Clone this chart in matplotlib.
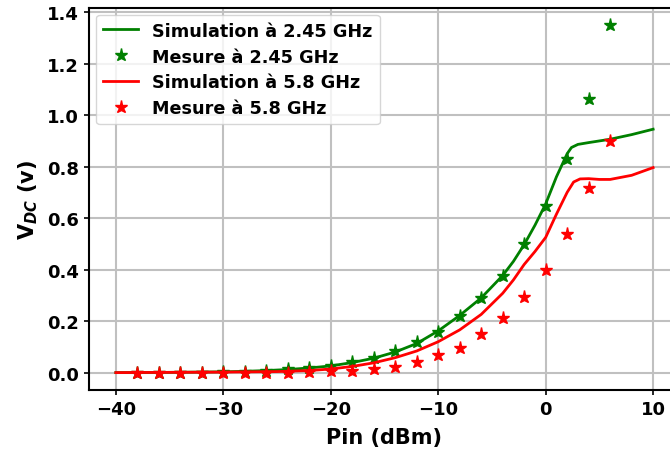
import matplotlib
matplotlib.use("Agg")
import matplotlib.pyplot as plt

# Simulation 2.45 GHz
sim245_x = [-40, -35, -30, -28, -26, -24, -22, -20, -18, -16, -14, -12, -10, -8, -6, -4, -3, -2, -1, 0, 1, 2, 2.4, 3, 4, 6, 8, 10]
sim245_y = [0.0, 0.001, 0.003, 0.005, 0.008, 0.012, 0.018, 0.026, 0.039, 0.056, 0.080, 0.113, 0.162, 0.222, 0.290, 0.377, 0.432, 0.497, 0.572, 0.655, 0.760, 0.850, 0.874, 0.886, 0.893, 0.906, 0.924, 0.945]

# Measurement 2.45 GHz
mes_x = [-38, -36, -34, -32, -30, -28, -26, -24, -22, -20, -18, -16, -14, -12, -10, -8, -6, -4, -2, 0, 2, 4, 6]
mes245_y = [0.0, 0.0, 0.0, 0.0, 0.001, 0.003, 0.008, 0.013, 0.016, 0.027, 0.043, 0.058, 0.084, 0.117, 0.158, 0.219, 0.288, 0.377, 0.498, 0.648, 0.830, 1.062, 1.350]

# Simulation 5.8 GHz
sim58_x = [-40, -35, -30, -25, -22, -20, -18, -16, -14, -12, -10, -8, -6, -4, -3, -2, -1, 0, 1, 2, 2.6, 3.2, 4, 5, 6, 8, 10]
sim58_y = [0.0, 0.001, 0.002, 0.004, 0.008, 0.014, 0.024, 0.038, 0.058, 0.084, 0.120, 0.166, 0.226, 0.308, 0.360, 0.420, 0.470, 0.525, 0.615, 0.700, 0.740, 0.752, 0.753, 0.750, 0.750, 0.766, 0.796]

# Measurement 5.8 GHz
mes58_y = [0.0, 0.0, 0.0, 0.0, 0.0, 0.0, 0.0, 0.0, 0.001, 0.005, 0.008, 0.013, 0.023, 0.043, 0.067, 0.097, 0.149, 0.211, 0.294, 0.400, 0.539, 0.716, 0.901]

plt.rcParams['font.weight'] = 'bold'
plt.rcParams['axes.labelweight'] = 'bold'

fig = plt.figure(figsize=(6.7, 4.52), dpi=100)
ax = fig.add_axes([89/670, 61/452, 591/670, 382.5/452])

ax.plot(sim245_x, sim245_y, color='green', lw=2, label='Simulation à 2.45 GHz')
ax.plot(mes_x, mes245_y, '*', color='green', ms=9.5, label='Mesure à 2.45 GHz')
ax.plot(sim58_x, sim58_y, color='red', lw=2, label='Simulation à 5.8 GHz')
ax.plot(mes_x, mes58_y, '*', color='red', ms=9.5, label='Mesure à 5.8 GHz')

ax.set_xlim(-42.5, 12.5)
ax.set_ylim(-0.0675, 1.4175)
ax.set_xticks([-40, -30, -20, -10, 0, 10])
ax.set_yticks([0.0, 0.2, 0.4, 0.6, 0.8, 1.0, 1.2, 1.4])
ax.grid(True, color='#c0c0c0', lw=1.5)
ax.set_axisbelow(True)
for s in ax.spines.values():
    s.set_linewidth(1.5)
ax.tick_params(labelsize=13, width=1.2)
for lbl in ax.get_xticklabels() + ax.get_yticklabels():
    lbl.set_fontweight('bold')
ax.set_xlabel('Pin (dBm)', fontsize=15, fontweight='bold', labelpad=7)
ax.set_ylabel(r'$\mathbf{V}_{\mathbfit{DC}}$ (v)', fontsize=15, fontweight='bold', labelpad=5)
ax.legend(loc='upper left', prop={'weight': 'bold', 'size': 12.7}, labelspacing=0.45,
          borderaxespad=0.4)

fig.savefig('out.png', dpi=100)
